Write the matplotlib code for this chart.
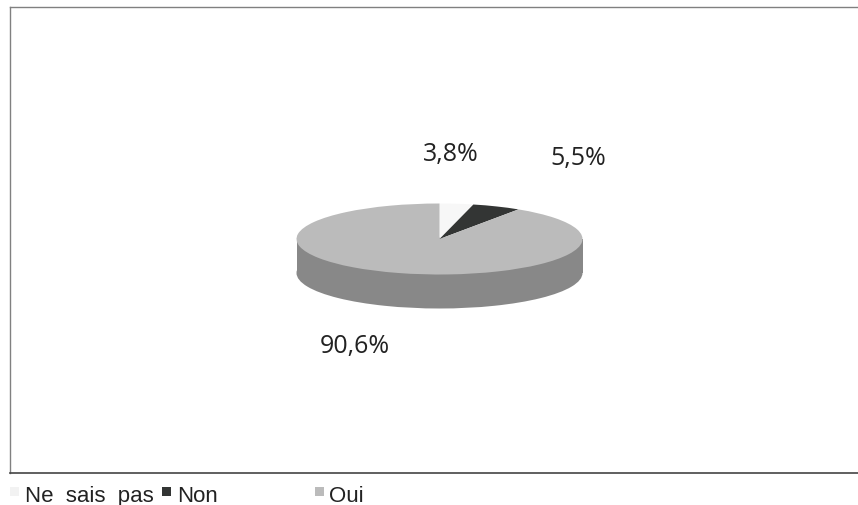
import matplotlib
matplotlib.use("Agg")
import matplotlib.pyplot as plt
from matplotlib.patches import Rectangle

categories = ["Ne  sais  pas", "Non", "Oui"]
values = [3.8, 5.5, 90.6]
value_labels = ["3,8%", "5,5%", "90,6%"]
colors = ["#f7f7f7", "#333534", "#bbbbbb"]
side_color = "#888888"

W, H = 858, 506
fig = plt.figure(figsize=(W / 100, H / 100), dpi=100, facecolor="white")
L, R, T, B = 10, 858, 8, 474
ax = fig.add_axes([L / W, 1 - B / H, (R - L) / W, (B - T) / H])

cx, cy, rx, ry, depth = 439.5, 240, 143, 35.5, 34 / 35.5

# side of the disc
ax.pie([1], colors=[side_color], center=(0, -depth), radius=1,
       wedgeprops={"linewidth": 0})
ax.add_patch(Rectangle((-1, -depth), 2, depth, facecolor=side_color, linewidth=0))
# top of the disc
ax.pie(values, colors=colors, startangle=90, counterclock=False, radius=1,
       wedgeprops={"linewidth": 0})

ax.set_aspect("auto")
ax.set_xlim((L - cx) / rx, (R - cx) / rx)
ax.set_ylim((cy - B) / ry, (cy - T) / ry)
ax.set_frame_on(True)
ax.set_xticks([])
ax.set_yticks([])
for s, c, lw in [("left", "#808080", 1.0), ("top", "#808080", 1.0),
                 ("bottom", "#444444", 1.2), ("right", "#808080", 0.0)]:
    ax.spines[s].set_color(c)
    ax.spines[s].set_linewidth(lw)
    ax.spines[s].set_visible(True)

# data labels
label_pos = [(451, 155), (578.5, 159), (354.5, 346)]
for txt, (x, y) in zip(value_labels, label_pos):
    fig.text(x / W, 1 - y / H, txt, ha="center", va="center",
             fontsize=18, family="Open Sans", color="#222222")

# legend
leg_sq = [14, 166, 319]
leg_tx = [25, 177, 329]
leg_col = ["#f2f2f2", "#333534", "#bbbbbb"]
for name, c, sx, tx in zip(categories, leg_col, leg_sq, leg_tx):
    fig.add_artist(Rectangle(((sx - 4) / W, 1 - 497 / H), 9 / W, 9 / H,
                             transform=fig.transFigure, facecolor=c, linewidth=0))
    fig.text(tx / W, 1 - 496.5 / H, name, ha="left", va="center",
             fontsize=16, family="Liberation Sans", color="#222222")

fig.savefig("out.png", dpi=100)
